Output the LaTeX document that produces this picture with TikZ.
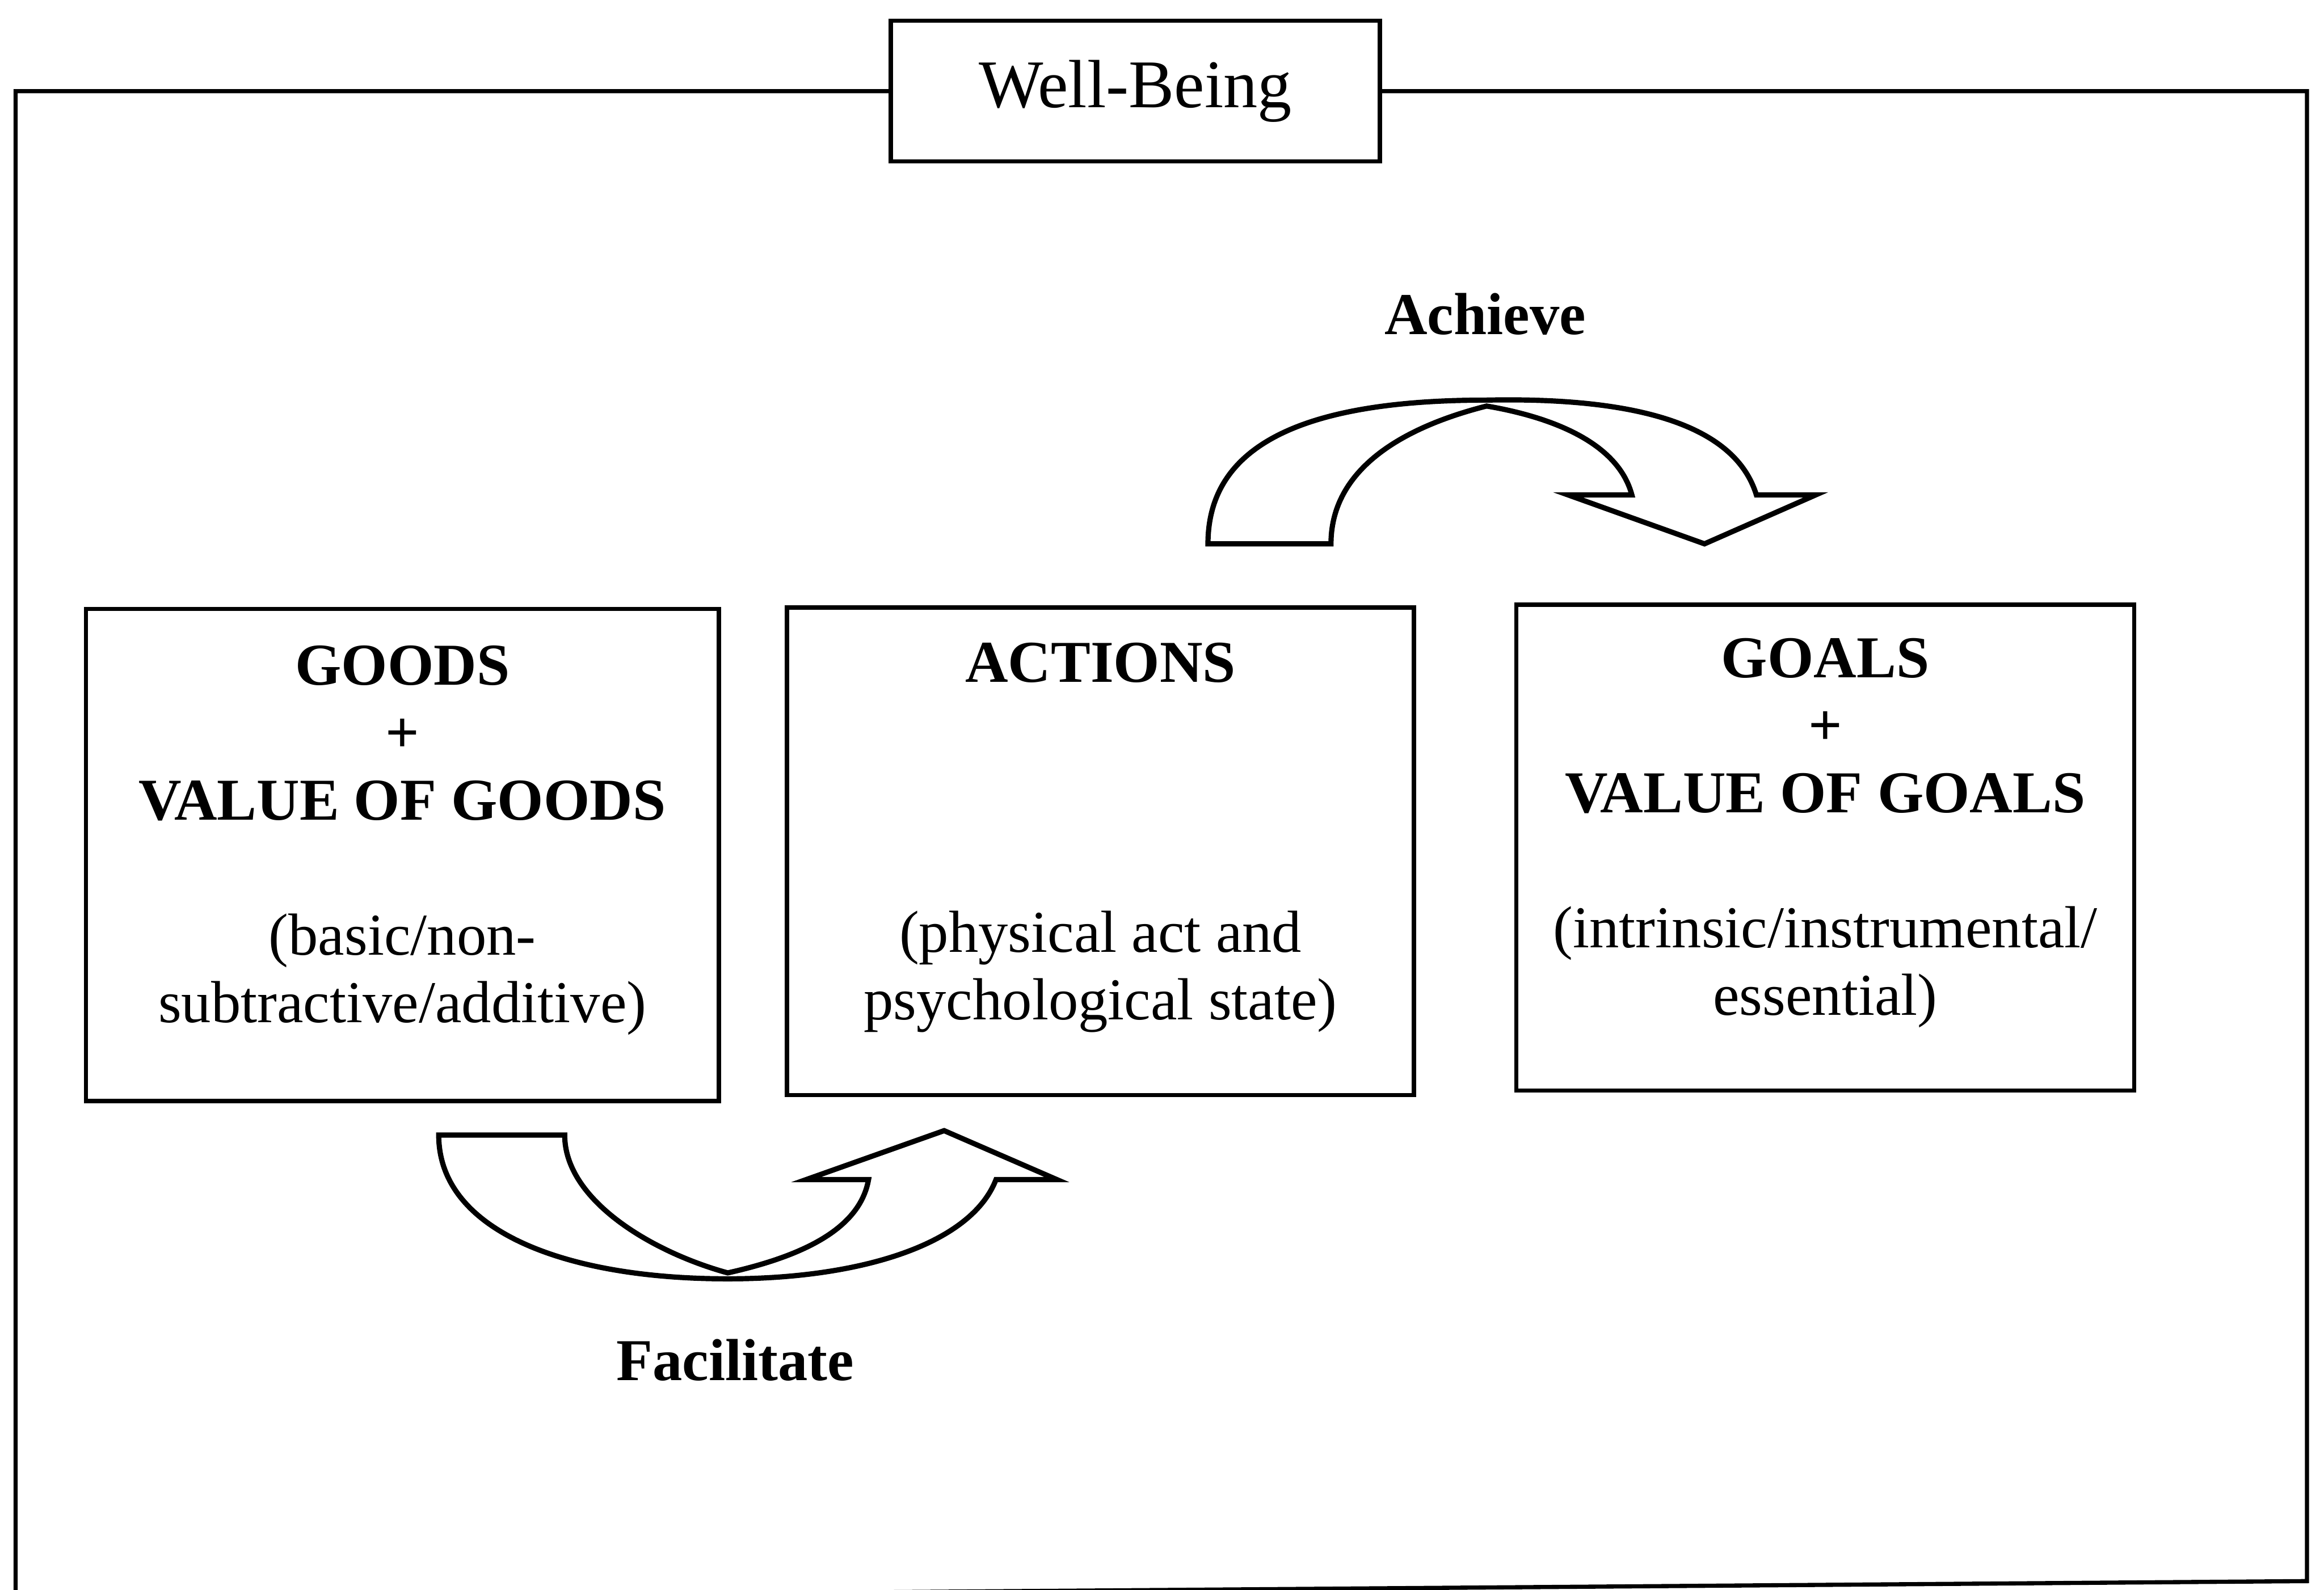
\documentclass[tikz,border=0pt]{standalone}
\usepackage{fontspec}
\setmainfont{Liberation Serif}
\usetikzlibrary{positioning}
\tikzset{frame/.style={line width=0.8pt}}
\tikzset{box/.style={draw, line width=0.8pt, inner sep=0pt}}
\tikzset{boxtext/.style={inner sep=0pt, align=center, font=\fontsize{11.4}{12.95}\selectfont}}
\tikzset{verb/.style={inner sep=0pt, font=\fontsize{11.4}{13}\selectfont\bfseries}}
\tikzset{bigarrow/.style={draw, line width=1pt, line join=miter, fill=white}}

\begin{document}
\begin{tikzpicture}
%goods facilitate actions, actions achieve goals, all inside well-being
\useasboundingbox (0,0) rectangle (15.68,-10.73);
\node (wb) at (7.66,-0.615)[box, minimum width=3.30cm, minimum height=0.95cm, font=\fontsize{13.1}{15}\selectfont]{Well-Being};
\draw[frame] (wb.west) -- (0.105,-0.615) -- (0.105,-10.79) -- (15.565,-10.67) -- (15.565,-0.615) -- (wb.east);

\node (goods) at (2.715,-5.77)[box, minimum width=4.27cm, minimum height=3.32cm]{};
\node (actions) at (7.425,-5.745)[box, minimum width=4.23cm, minimum height=3.29cm]{};
\node (goals) at (12.315,-5.72)[box, minimum width=4.17cm, minimum height=3.28cm]{};

\node (goodstxt)[boxtext, below=0.255 of goods.north]{\textbf{GOODS}\\ \textbf{+}\\ \textbf{VALUE OF GOODS}\\[12.95pt] (basic/non-\\ subtractive/additive)};
\node (actionstxt)[boxtext, below=0.245 of actions.north]{\textbf{ACTIONS}\\[38.85pt] (physical act and\\ psychological state)};
\node (goalstxt)[boxtext, below=0.235 of goals.north]{\textbf{GOALS}\\ \textbf{+}\\ \textbf{VALUE OF GOALS}\\[12.95pt] (intrinsic/instrumental/\\ essential)};

%curved block arrows
\draw[bigarrow] (8.15,-3.67) .. controls (8.15,-3.00) and (8.80,-2.70) .. (10.03,-2.70)
  .. controls (11.00,-2.68) and (11.70,-2.85) .. (11.85,-3.34)
  -- (12.25,-3.34) -- (11.50,-3.67) -- (10.58,-3.34) -- (11.01,-3.34)
  .. controls (10.92,-3.00) and (10.50,-2.82) .. (10.03,-2.74)
  .. controls (9.40,-2.90) and (8.98,-3.20) .. (8.98,-3.67) -- cycle;
\node (achieve) at (10.02,-2.12)[verb]{Achieve};

\draw[bigarrow] (2.96,-7.66) .. controls (2.96,-8.30) and (3.80,-8.63) .. (4.91,-8.63)
  .. controls (5.80,-8.63) and (6.55,-8.40) .. (6.72,-7.96)
  -- (7.13,-7.96) -- (6.37,-7.63) -- (5.44,-7.96) -- (5.86,-7.96)
  .. controls (5.80,-8.30) and (5.40,-8.48) .. (4.91,-8.59)
  .. controls (4.40,-8.45) and (3.81,-8.10) .. (3.81,-7.66) -- cycle;
\node (facilitate) at (4.96,-9.18)[verb]{Facilitate};
\end{tikzpicture}
\end{document}
